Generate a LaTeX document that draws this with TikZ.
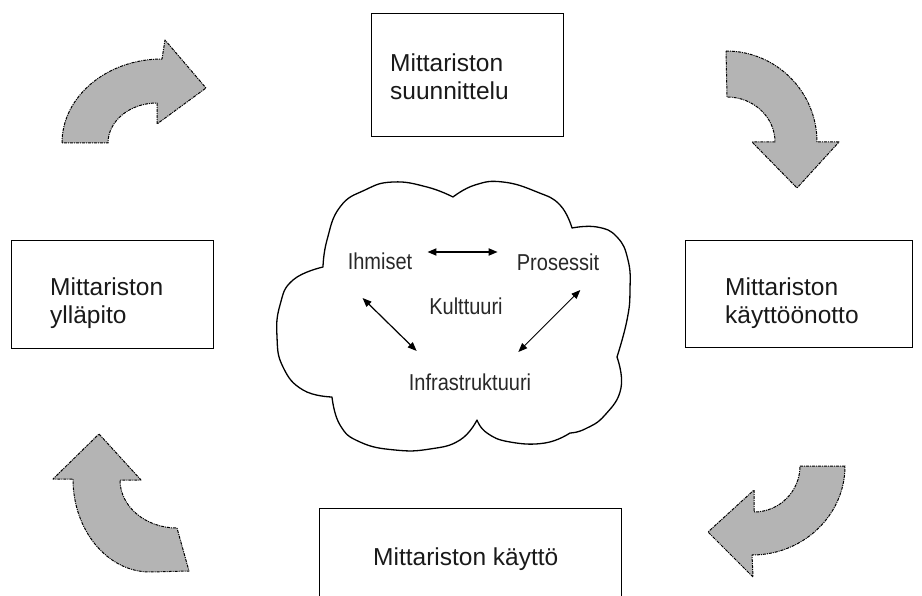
\documentclass[tikz,border=0pt]{standalone}
\usepackage{fontspec}
\setmainfont{Liberation Sans}
\usepackage{graphicx}
\usetikzlibrary{arrows.meta}
\definecolor{arrowgray}{RGB}{180,180,180}
\definecolor{txt}{RGB}{25,25,25}
\definecolor{cloudtxt}{RGB}{40,40,40}
\begin{document}
\begin{tikzpicture}[x=1pt,y=-1pt,
  box/.style={draw=black, line width=1.4pt, rectangle, inner sep=0pt, anchor=north west},
  boxtext/.style={font=\fontsize{24.5}{28}\selectfont, align=left, inner sep=0pt, anchor=north west, text=txt},
  cloudtext/.style={font=\fontsize{20}{22}\selectfont, inner sep=0pt, anchor=base, text=cloudtxt},
  blockarrow/.style={fill=arrowgray, draw=black, line width=1pt, dash pattern=on 3pt off 1pt on 1pt off 1pt, line join=round},
  biarrow/.style={{Triangle[length=9pt,width=7pt]}-{Triangle[length=9pt,width=7pt]}, black},
  cloudline/.style={draw=black, fill=white, line width=1.3pt, line join=round}
]
\useasboundingbox (0,0) rectangle (922,596);
\clip (0,0) rectangle (922,596);

% boxes
\node[box, minimum width=192pt, minimum height=123pt] (plan) at (371,13) {};
\node[boxtext] (plantext) at (390,53.5) {Mittariston\\suunnittelu};

\node[box, minimum width=202pt, minimum height=108pt] (maint) at (11,240) {};
\node[boxtext] (mainttext) at (50,278) {Mittariston\\ylläpito};

\node[box, minimum width=227pt, minimum height=107pt] (deploy) at (685,240) {};
\node[boxtext] (deploytext) at (725,278) {Mittariston\\käyttöönotto};

\node[box, minimum width=302pt, minimum height=120pt] (use) at (319,508) {};
\node[boxtext, anchor=base west] (usetext) at (373,565) {Mittariston käyttö};

% curved block arrows
\path[blockarrow] (62,143) arc[start angle=180, end angle=270, x radius=100, y radius=84]
  -- (165,40) -- (206,88) -- (157,124) -- (157,103)
  arc[start angle=270, end angle=180, x radius=49, y radius=40] -- cycle;

\path[blockarrow] (726,51) arc[start angle=270, end angle=360, x radius=91, y radius=91]
  -- (839,142) -- (797,188) -- (752,142) -- (775,142)
  arc[start angle=0, end angle=-90, x radius=48, y radius=45] -- cycle;

\path[blockarrow] (800,466) -- (845,466) arc[start angle=0, end angle=90, x radius=93, y radius=89]
  -- (753,577) -- (708,532) -- (754,490) -- (754,512)
  arc[start angle=90, end angle=0, x radius=46, y radius=46] -- cycle;

\path[blockarrow] (99,434) -- (141,480) -- (120,480)
  arc[start angle=180, end angle=90, x radius=57, y radius=48]
  -- (189,571) -- (150,572)
  arc[start angle=90, end angle=180, x radius=77, y radius=93] -- (53,479) -- cycle;

% cloud
\path[cloudline]
  plot[smooth, tension=0.8] coordinates {(323,267) (327,240) (340,207) (365,190) (393,182) (427,187) (453,197)}
  -- plot[smooth, tension=0.8] coordinates {(453,197) (475,185) (503,182) (537,192) (560,205) (572,228)}
  -- plot[smooth, tension=0.8] coordinates {(572,228) (597,227) (617,237) (628,260) (630,290) (627,320) (617,357)}
  -- plot[smooth, tension=0.8] coordinates {(617,357) (621,388) (605,415) (585,429) (570,433)}
  -- plot[smooth, tension=0.8] coordinates {(570,433) (545,443) (510,442) (487,433) (477,420)}
  -- plot[smooth, tension=0.8] coordinates {(477,420) (460,440) (430,449) (395,450) (360,442) (340,425) (332,397)}
  -- plot[smooth, tension=0.8] coordinates {(332,397) (303,390) (283,367) (277,337) (280,305) (293,280) (323,267)}
  -- cycle;

% cloud texts
\node[cloudtext] (ihm) at (380,270) {\scalebox{1}[1.15]{Ihmiset}};
\node[cloudtext] (pros) at (558,271) {\scalebox{1}[1.15]{Prosessit}};
\node[cloudtext] (kult) at (466,315) {\scalebox{1}[1.15]{Kulttuuri}};
\node[cloudtext] (infra) at (470,391) {\scalebox{1}[1.15]{Infrastruktuuri}};

% connectors
\draw[biarrow, line width=1.7pt] ([xshift=15pt,yshift=18pt]ihm.base east) -- ([xshift=-19pt,yshift=19pt]pros.base west);
\draw[biarrow, line width=1.2pt] ([xshift=15pt,yshift=-28pt]ihm.base west) -- ([xshift=8pt,yshift=40pt]infra.base west);
\draw[biarrow, line width=0.9pt] ([xshift=-19pt,yshift=-19pt]pros.base east) -- ([xshift=-13pt,yshift=39pt]infra.base east);
\end{tikzpicture}
\end{document}
